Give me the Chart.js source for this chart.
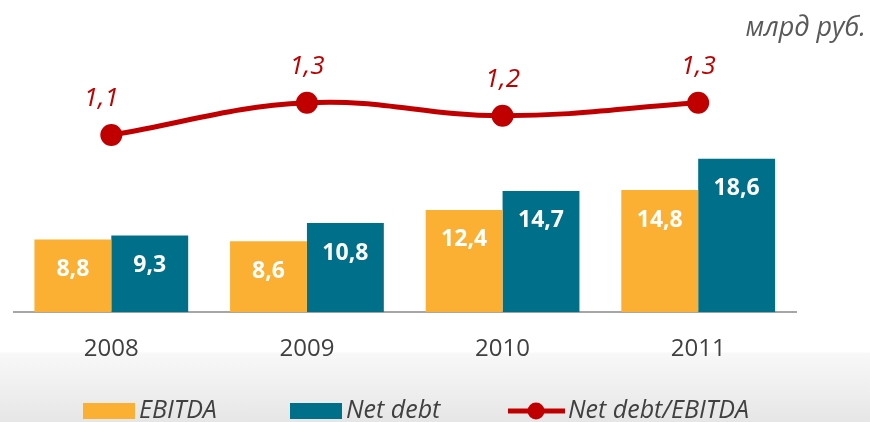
<!DOCTYPE html>
<html>
<head>
<meta charset="utf-8">
<script src="https://cdn.jsdelivr.net/npm/chart.js@4.4.1/dist/chart.umd.min.js"></script>
<style>
  html, body { margin:0; padding:0; }
  body { width:870px; height:422px; overflow:hidden;
    background: linear-gradient(to bottom, #ffffff 0px, #ffffff 352px, #f8f8f8 353px, #ececec 400px, #e6e6e6 422px); }
  #wrap { position:relative; width:870px; height:422px; }
  #unit { position:absolute; right:4px; top:7px; font:italic 27px "Open Sans", sans-serif; color:#595959; }
</style>
</head>
<body>
<div id="wrap">
  <canvas id="c" width="870" height="422"></canvas>
  <div id="unit">млрд руб.</div>
</div>
<script>
const categories = ['2008', '2009', '2010', '2011'];
const ebitda = [8.8, 8.6, 12.4, 14.8];
const netDebt = [9.3, 10.8, 14.7, 18.6];
const ratio = [1.1, 1.3, 1.22, 1.3];
const seriesNames = ['EBITDA', 'Net debt', 'Net debt/EBITDA'];

const COL_EBITDA = '#FBB034';
const COL_DEBT = '#00708A';
const COL_LINE = '#C00000';

const fmt = v => v.toFixed(1).replace('.', ',');

const labelPlugin = {
  id: 'labels',
  afterDatasetsDraw(chart) {
    const ctx = chart.ctx;
    ctx.save();
    ctx.textAlign = 'center';
    ctx.textBaseline = 'middle';
    [0, 1].forEach(di => {
      const meta = chart.getDatasetMeta(di);
      const data = chart.data.datasets[di].data;
      ctx.font = 'bold 23px "Open Sans", sans-serif';
      ctx.fillStyle = '#ffffff';
      meta.data.forEach((el, i) => {
        ctx.fillText(fmt(data[i]), el.x, el.y + 30);
      });
    });
    const lm = chart.getDatasetMeta(2);
    const ld = chart.data.datasets[2].data;
    ctx.font = 'italic 26px "Open Sans", sans-serif';
    ctx.fillStyle = COL_LINE;
    lm.data.forEach((el, i) => {
      ctx.fillText(fmt(ld[i]), el.x - (i === 0 ? 10 : 0), el.y - 36);
    });
    ctx.restore();
  },
  afterDraw(chart) {
    const ctx = chart.ctx;
    ctx.save();
    const y = 411;
    ctx.font = 'italic 25px "Open Sans", sans-serif';
    ctx.textBaseline = 'middle';
    ctx.textAlign = 'left';
    ctx.fillStyle = COL_EBITDA;
    ctx.fillRect(83, 403, 52, 16);
    ctx.fillStyle = '#404040';
    ctx.fillText(seriesNames[0], 139, y);
    ctx.fillStyle = COL_DEBT;
    ctx.fillRect(290, 403, 52, 16);
    ctx.fillStyle = '#404040';
    ctx.fillText(seriesNames[1], 346, y);
    ctx.strokeStyle = COL_LINE;
    ctx.lineWidth = 5;
    ctx.beginPath(); ctx.moveTo(508, y); ctx.lineTo(565, y); ctx.stroke();
    ctx.fillStyle = COL_LINE;
    ctx.beginPath(); ctx.arc(536, y, 8.5, 0, Math.PI * 2); ctx.fill();
    ctx.fillStyle = '#404040';
    ctx.fillText(seriesNames[2], 568, y);
    ctx.restore();
  }
};

new Chart(document.getElementById('c'), {
  data: {
    labels: categories,
    datasets: [
      { type: 'bar', label: seriesNames[0], data: ebitda, backgroundColor: COL_EBITDA, yAxisID: 'y', order: 2,
        barPercentage: 1, categoryPercentage: 0.786 },
      { type: 'bar', label: seriesNames[1], data: netDebt, backgroundColor: COL_DEBT, yAxisID: 'y', order: 2,
        barPercentage: 1, categoryPercentage: 0.786 },
      { type: 'line', label: seriesNames[2], data: ratio, borderColor: COL_LINE, backgroundColor: COL_LINE,
        borderWidth: 5, pointRadius: 8.5, pointHoverRadius: 8.5, tension: 0.4, yAxisID: 'y2', order: 0 }
    ]
  },
  options: {
    responsive: false,
    animation: false,
    events: [],
    layout: { padding: { left: 4, right: 74, top: 40, bottom: 36 } },
    plugins: { legend: { display: false }, tooltip: { enabled: false } },
    scales: {
      x: {
        grid: { display: false, drawTicks: false },
        border: { display: true, color: '#A6A6A6', width: 2 },
        ticks: { color: '#404040', font: { family: '"Open Sans", sans-serif', size: 24 }, padding: 22.5 }
      },
      y: { display: false, min: 0, max: 33 },
      y2: { display: false, min: 0, max: 1.69 }
    }
  },
  plugins: [labelPlugin]
});
</script>
</body>
</html>
